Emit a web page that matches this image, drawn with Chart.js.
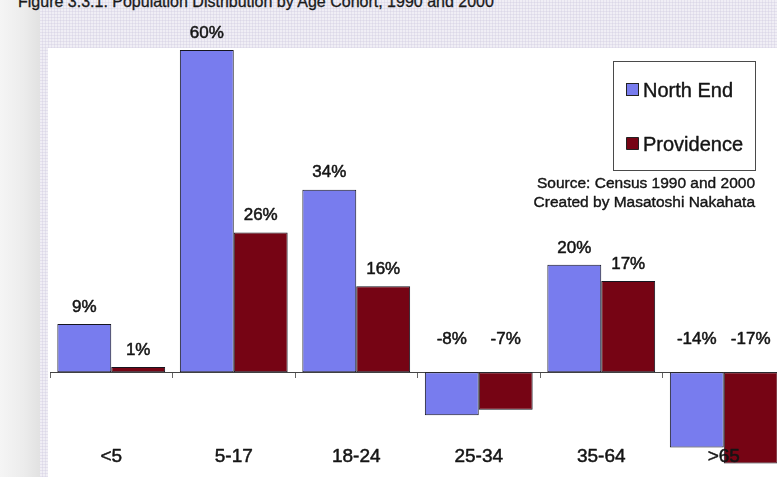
<!DOCTYPE html>
<html>
<head>
<meta charset="utf-8">
<script src="https://cdn.jsdelivr.net/npm/chart.js@4"></script>
<style>
  html, body { margin: 0; padding: 0; overflow: hidden; width: 777px; height: 477px; }
  body {
    position: relative;
    font-family: "Liberation Sans", Arial, sans-serif;
    background-color: #f0eef5;
    background-image:
      repeating-linear-gradient(0deg, rgba(205,200,222,0.35) 0 1px, transparent 1px 3px),
      repeating-linear-gradient(90deg, rgba(205,200,222,0.35) 0 1px, transparent 1px 3px);
  }
  #strip { position: absolute; left: 0; top: 0; width: 40px; height: 477px;
           background: linear-gradient(90deg, #f5f5f5 0%, #ececec 60%, #e2e2e2 100%); }
  #plot { position: absolute; left: 48px; top: 48px; width: 729px; height: 429px; background: #fff; }
  #title { position: absolute; left: 18px; top: -6px; font-size: 16px; line-height: 16px;
           color: #1a1a1a; white-space: nowrap; -webkit-text-stroke: 0.3px #1a1a1a; }
  #wrap { position: absolute; left: 0; top: 0; width: 800px; height: 477px; }
</style>
</head>
<body>
<div id="strip"></div>
<div id="plot"></div>
<div id="title">Figure 3.3.1: Population Distribution by Age Cohort, 1990 and 2000</div>
<div id="wrap"><canvas id="c" width="800" height="477"></canvas></div>
<script>
// Percent change in population by age cohort, 1990 to 2000
const categories = ['<5', '5-17', '18-24', '25-34', '35-64', '>65'];
const northEnd   = [9, 60, 34, -8, 20, -14];
const providence = [1, 26, 16, -7, 17, -17];
const seriesNames = ['North End', 'Providence'];
const sourceLines = ['Source: Census 1990 and 2000', 'Created by Masatoshi Nakahata'];

const FONT = '"Liberation Sans", Arial, sans-serif';
const BLUE = 'rgb(120,124,238)';
const RED = 'rgb(118,4,20)';
const INK = '#141414';

// Draws text with a hairline outline so it reads slightly heavier
function heavyText(ctx, text, x, y, w) {
  ctx.lineWidth = w;
  ctx.strokeStyle = ctx.fillStyle;
  ctx.lineJoin = 'round';
  ctx.strokeText(text, x, y);
  ctx.fillText(text, x, y);
}

// Percentage labels above each bar (negative ones sit above the zero line)
const valueLabels = {
  id: 'valueLabels',
  afterDatasetsDraw(chart) {
    const ctx = chart.ctx;
    const zero = chart.scales.y.getPixelForValue(0);
    ctx.save();
    ctx.font = '17px ' + FONT;
    ctx.fillStyle = INK;
    ctx.textAlign = 'center';
    ctx.textBaseline = 'middle';
    chart.data.datasets.forEach((ds, di) => {
      chart.getDatasetMeta(di).data.forEach((el, i) => {
        const v = ds.data[i];
        const y = v >= 0 ? el.y - 17 : zero - 33;
        heavyText(ctx, v + '%', el.x, y, 0.5);
      });
    });
    ctx.restore();
  }
};

// Category names placed low inside the plot area
const categoryLabels = {
  id: 'categoryLabels',
  afterDraw(chart) {
    const ctx = chart.ctx;
    const xs = chart.scales.x;
    const zero = chart.scales.y.getPixelForValue(0);
    ctx.save();
    ctx.font = '19px ' + FONT;
    ctx.fillStyle = INK;
    ctx.textAlign = 'center';
    ctx.textBaseline = 'middle';
    chart.data.labels.forEach((lab, i) => {
      heavyText(ctx, lab, xs.getPixelForValue(i), zero + 85, 0.5);
    });
    ctx.restore();
  }
};

// Boxed legend plus source note in the upper right
const boxLegend = {
  id: 'boxLegend',
  afterDraw(chart) {
    const ctx = chart.ctx;
    ctx.save();
    ctx.strokeStyle = '#4a4a4a';
    ctx.lineWidth = 1;
    ctx.strokeRect(613.5, 61.5, 142, 109);
    ctx.font = '20px ' + FONT;
    ctx.textBaseline = 'middle';
    ctx.textAlign = 'left';
    const rows = [90, 144];
    chart.data.datasets.forEach((ds, i) => {
      const cy = rows[i];
      ctx.fillStyle = ds.backgroundColor;
      ctx.fillRect(626.5, cy - 6.5, 12, 12);
      ctx.strokeStyle = '#222';
      ctx.lineWidth = 1;
      ctx.strokeRect(626.5, cy - 6.5, 12, 12);
      ctx.fillStyle = INK;
      heavyText(ctx, ds.label, 643, cy + 1, 0.4);
    });
    ctx.font = '15.5px ' + FONT;
    ctx.textAlign = 'right';
    ctx.fillStyle = INK;
    heavyText(ctx, sourceLines[0], 755, 184, 0.4);
    heavyText(ctx, sourceLines[1], 755, 203, 0.4);
    ctx.restore();
  }
};

new Chart(document.getElementById('c'), {
  type: 'bar',
  data: {
    labels: categories,
    datasets: [
      { label: seriesNames[0], data: northEnd, backgroundColor: BLUE },
      { label: seriesNames[1], data: providence, backgroundColor: RED }
    ]
  },
  options: {
    responsive: false,
    animation: false,
    layout: { padding: { left: 50, top: 50, right: 15, bottom: 0 } },
    datasets: {
      bar: {
        categoryPercentage: 0.88,
        barPercentage: 1.0,
        borderColor: '#15151f',
        borderWidth: 1,
        borderSkipped: false
      }
    },
    plugins: { legend: { display: false }, tooltip: { enabled: false }, title: { display: false } },
    scales: {
      x: {
        position: { y: 0 },
        ticks: { display: false },
        grid: { offset: true, drawOnChartArea: false, drawTicks: true, tickLength: 5, color: '#666' },
        border: { display: true, color: '#444', width: 1 }
      },
      y: {
        display: false,
        min: -19.5,
        max: 60
      }
    }
  },
  plugins: [valueLabels, categoryLabels, boxLegend]
});
</script>
</body>
</html>
